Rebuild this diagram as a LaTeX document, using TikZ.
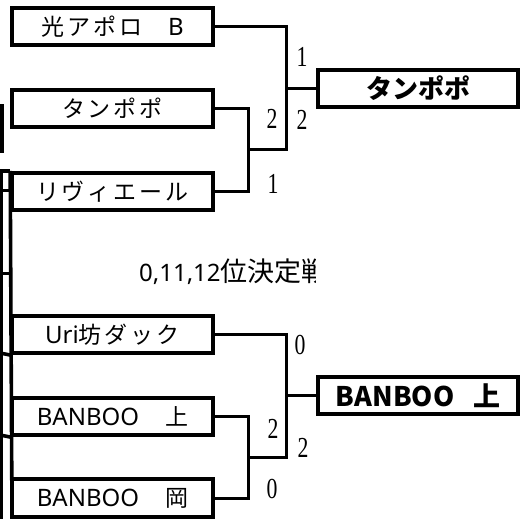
\documentclass[tikz,border=0pt]{standalone}
\usepackage{fontspec}
\newfontfamily\jpfont[LetterSpace=13]{Noto Sans CJK JP}
\newfontfamily\jpwin{Noto Sans CJK JP}
\newfontfamily\latfont{Noto Sans}
\newfontfamily\scorefont[FakeStretch=0.75]{Liberation Serif}
\newcommand\lat[1]{{\latfont\fontsize{24}{28}\selectfont #1}}

\begin{document}
\begin{tikzpicture}[x=1pt, y=-1pt,
        team/.style={draw, line width=3.6pt, minimum width=201pt, minimum height=37.5pt,
            inner sep=0pt, font=\jpfont\fontsize{23}{28}\selectfont},
        winner/.style={team, minimum width=200pt, font=\jpwin\bfseries\fontsize{26}{30}\selectfont},
        score/.style={inner sep=0pt, font=\scorefont\fontsize{29}{30}\selectfont},
        link/.style={line width=3pt}]
            \useasboundingbox (0,0) rectangle (531,519);

            % upper bracket
            \node[team] (hikari) at (112.5, 26.5) {光アポロ　\lat{B}};
            \node[team] (tanpopo) at (112.5, 108.5) {タンポポ};
            \node[team] (rivi) at (112.5, 191.5) {リヴィエール};
            \node[winner] (win1) at (418, 88.5) {タンポポ};

            \coordinate (j1) at (248, 150);
            \coordinate (j2) at (286, 88.5);
            \draw[link] (tanpopo.east) -| (j1) |- (rivi.east);
            \draw[link] (hikari.east) -| (j2) |- (j1);
            \draw[link] (j2) -- (win1.west);

            \node[score] (s1) at (302, 57) {1};
            \node[score] (s2) at (272, 119) {2};
            \node[score] (s3) at (302, 120) {2};
            \node[score] (s4) at (273, 184) {1};

            % lower bracket
            \begin{scope}
                \clip (0, 250) rectangle (315, 300);
                \node[anchor=west, inner sep=0pt, font=\jpwin\fontsize{27}{30}\selectfont] (title) at (139, 272) {\lat{0,11,12}位決定戦};
            \end{scope}

            \node[team] (uri) at (112.5, 334.5) {\lat{Uri}坊ダック};
            \node[team] (banue) at (112.5, 416.5) {\lat{BANBOO}　上};
            \node[team] (banoka) at (112.5, 498) {\lat{BANBOO}　岡};
            \node[winner, font=\jpwin\bfseries\fontsize{27}{30}\selectfont] (win2) at (418, 395.5) {BANBOO\hspace{0.7em}上};

            \coordinate (j3) at (248, 457);
            \coordinate (j4) at (286, 395.5);
            \draw[link] (banue.east) -| (j3) |- (banoka.east);
            \draw[link] (uri.east) -| (j4) |- (j3);
            \draw[link] (j4) -- (win2.west);

            \node[score] (s5) at (300, 345) {0};
            \node[score] (s6) at (273, 429) {2};
            \node[score] (s7) at (303, 448) {2};
            \node[score] (s8) at (272, 489) {0};

            % left edge (cut off)
            \draw[link] (0, 106) -| (2, 152) -- (0, 152);
            \draw[link] (1.5, 172) -- (1.5, 519);
            \draw[line width=3.6pt] (rivi.north west) -- ++(-12, 0);
            \draw[line width=3.6pt] (rivi.north west) -- (12, 519);
            \draw[link] (1.5, 190) -- (12, 190);
            \draw[link] (1.5, 273) -- (12, 273);
            \draw[line width=3.6pt] (0, 353) -- (uri.south west);
            \draw[line width=3.6pt] (0, 435) -- (banue.south west);
\end{tikzpicture}
\end{document}
